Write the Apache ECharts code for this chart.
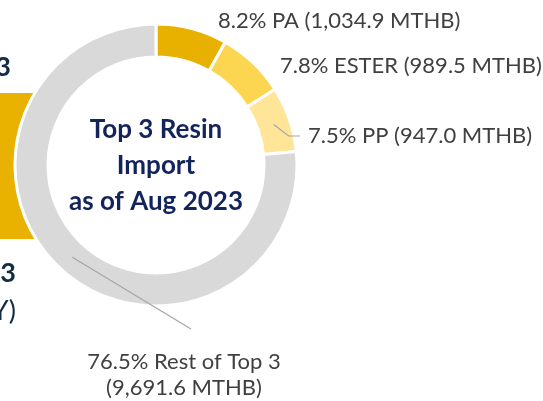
<!DOCTYPE html>
<html>
<head>
<meta charset="utf-8">
<script src="https://cdn.jsdelivr.net/npm/echarts@6/dist/echarts.min.js"></script>
<style>
  html, body { margin: 0; padding: 0; background: #fff; }
  #resinImport { width: 543px; height: 401px; }
</style>
</head>
<body>
<div id="resinImport"></div>
<script>
// data (MTHB)
var resinNames = ['PA', 'ESTER', 'PP', 'Rest of Top 3'];
var resinValues = [1034.9, 989.5, 947.0, 9691.6];
var resinColors = ['#E8B100', '#FDD651', '#FFE597', '#D9D9D9'];

var FONT = "'Gill Sans MT', 'Gill Sans', Lato, sans-serif";
var CX = 156, CY = 165, R_IN = 108, R_OUT = 141;

// where each label sits (left edge / centre, vertical middle)
var labelSpots = [
  { x: 218, y: 21, align: 'left' },
  { x: 280, y: 66, align: 'left' },
  { x: 308, y: 136, align: 'left' },
  { x: 184, y: 375, align: 'center' }
];

function fmtNum(v) {
  var parts = v.toFixed(1).split('.');
  parts[0] = parts[0].replace(/\B(?=(\d{3})+(?!\d))/g, ',');
  return parts.join('.');
}

// mid angle of a slice, clockwise from 12 o'clock
function midAngle(idx) {
  var total = resinValues.reduce(function (a, b) { return a + b; }, 0);
  var before = 0;
  for (var i = 0; i < idx; i++) before += resinValues[i];
  return (before + resinValues[idx] / 2) / total * Math.PI * 2;
}
function ringPoint(idx, r) {
  var a = midAngle(idx);
  return [CX + r * Math.sin(a), CY - r * Math.cos(a)];
}

var chart = echarts.init(document.getElementById('resinImport'));

var pieData = resinNames.map(function (name, i) {
  return { name: name, value: resinValues[i], itemStyle: { color: resinColors[i] } };
});

chart.setOption({
  animation: false,
  graphic: [
    // part of the neighbouring chart, cut off at the left
    { type: 'rect', shape: { x: -10, y: 93, width: 56, height: 146 }, style: { fill: '#E9B200' }, z: 0 },
    { type: 'text', x: 11, y: 67, style: { text: '2023', fill: '#132C45', font: 'bold 27px ' + FONT, textAlign: 'right', textVerticalAlign: 'middle' } },
    { type: 'text', x: 16, y: 273, style: { text: '2023', fill: '#132C45', font: 'bold 27px ' + FONT, textAlign: 'right', textVerticalAlign: 'middle' } },
    { type: 'text', x: 16, y: 311, style: { text: '(YoY)', fill: '#132C45', font: '27px ' + FONT, textAlign: 'right', textVerticalAlign: 'middle' } },
    {
      type: 'text', x: CX, y: CY + 1, z: 10,
      style: {
        text: 'Top 3 Resin\nImport\nas of Aug 2023',
        fill: '#13235B', font: 'bold 26px ' + FONT,
        textAlign: 'center', textVerticalAlign: 'middle', lineHeight: 36
      }
    }
  ],
  series: [{
    // the ring itself
    type: 'pie',
    center: [CX, CY],
    radius: [R_IN, R_OUT],
    startAngle: 90,
    clockwise: true,
    silent: true,
    itemStyle: { borderColor: '#fff', borderWidth: 3 },
    label: { show: false },
    labelLine: { show: false },
    data: pieData
  }, {
    // same slices, invisible, only to carry labels and leader lines above the ring
    type: 'pie',
    z: 5,
    center: [CX, CY],
    radius: [R_IN, R_OUT],
    startAngle: 90,
    clockwise: true,
    silent: true,
    percentPrecision: 1,
    avoidLabelOverlap: false,
    itemStyle: { color: 'rgba(0,0,0,0)', borderWidth: 0 },
    label: {
      position: 'outside',
      color: '#404040',
      fontFamily: FONT,
      fontSize: 22,
      lineHeight: 26,
      formatter: function (p) {
        if (p.dataIndex === 3) {
          return p.percent.toFixed(1) + '% ' + p.name + '\n(' + fmtNum(p.value) + ' MTHB)';
        }
        return p.percent.toFixed(1) + '% ' + p.name + ' (' + fmtNum(p.value) + ' MTHB)';
      }
    },
    labelLine: { show: true, lineStyle: { color: '#A6A6A6', width: 1.2 } },
    labelLayout: function (params) {
      var i = params.dataIndex;
      var spot = labelSpots[i];
      var out = { x: spot.x, y: spot.y, align: spot.align, verticalAlign: 'middle' };
      var start = ringPoint(i, (R_IN + R_OUT) / 2);
      if (i === 2) {
        out.labelLinePoints = [start, [start[0] + 15, spot.y], [spot.x - 8, spot.y]];
      } else if (i === 3) {
        out.labelLinePoints = [start, [191, 329], [191, 329]];
      }
      return out;
    },
    data: resinNames.map(function (name, i) {
      return { name: name, value: resinValues[i], labelLine: { show: i >= 2 } };
    })
  }]
});
</script>
</body>
</html>
